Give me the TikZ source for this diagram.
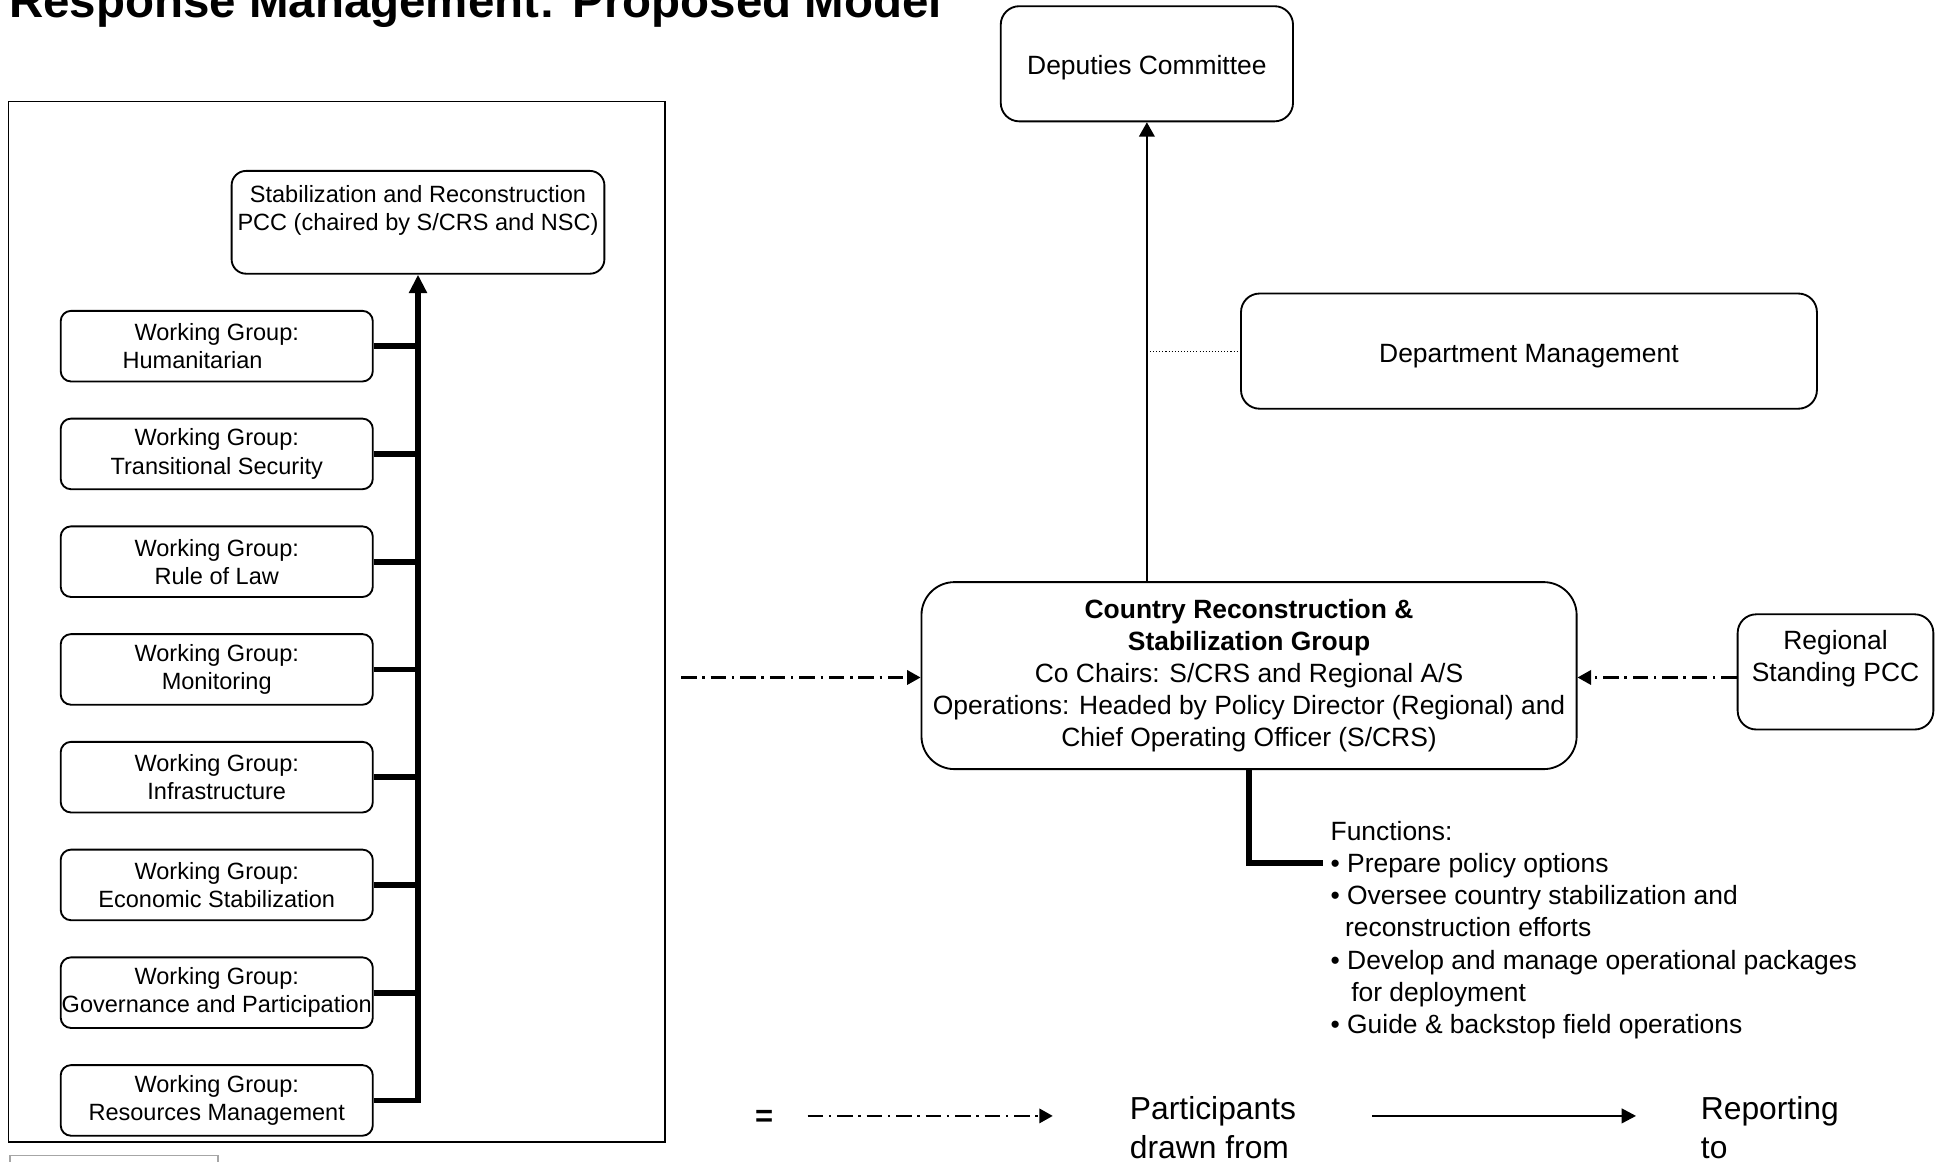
\documentclass[tikz,border=0pt]{standalone}
\usepackage{fontspec}
\setmainfont{Liberation Sans}
\usetikzlibrary{arrows.meta}
\newcommand{\wgf}{\fontsize{11.4}{13.6}\selectfont}
\newcommand{\midf}{\fontsize{12.8}{15.6}\selectfont}
\newcommand{\legf}{\fontsize{15.4}{18.6}\selectfont}
\begin{document}
\begin{tikzpicture}[x=0.6pt,y=-0.6pt,
  box/.style={draw, line width=0.9pt, rounded corners=#1, inner sep=0pt, align=center},
  box/.default=5pt,
  lift/.style={execute at begin node={\rule{0pt}{#1}}},
  wgbox/.style={box=5pt, minimum width=151.2pt, minimum height=34.2pt, font=\wgf, lift=10.8pt},
  spine/.style={line width=2.8pt, line join=miter},
  thinarrow/.style={line width=1pt, -{Triangle[length=7pt,width=7.6pt]}},
  dashdot/.style={line width=1pt, dash pattern=on 7.5pt off 2.8pt on 1.2pt off 2.8pt, -{Triangle[length=6.5pt,width=7pt]}},
  dottedline/.style={line width=0.5pt, dash pattern=on 0.5pt off 1pt}]
\useasboundingbox (0,0) rectangle (1568,938);
\clip (0,0) rectangle (1568,938);

% title
\node[anchor=base west, font=\bfseries\fontsize{23}{27}\selectfont, inner sep=0] (title) at (7,14) {Response Management: Proposed Model};

% left frame
\node[draw, line width=0.7pt, minimum width=318pt, minimum height=504pt, inner sep=0] (frame) at (272,502) {};
\draw[gray!70, line width=0.6pt] (8,933) rectangle (176,950);

% PCC
\node[box=7pt, minimum width=180.6pt, minimum height=49.8pt, font=\wgf, lift=12pt] (pcc) at (337.5,179.5)
  {Stabilization and Reconstruction\\PCC (chaired by S/CRS and NSC)\\\mbox{}};

% working groups
\node[wgbox] (wg1) at (175,279.5) {Working Group:\\Humanitarian\hspace*{23.4pt}};
\node[wgbox] (wg2) at (175,366.5) {Working Group:\\Transitional Security};
\node[wgbox] (wg3) at (175,453.5) {Working Group:\\Rule of Law};
\node[wgbox] (wg4) at (175,540.5) {Working Group:\\Monitoring};
\node[wgbox] (wg5) at (175,627.5) {Working Group:\\Infrastructure};
\node[wgbox] (wg6) at (175,714.5) {Working Group:\\Economic Stabilization};
\node[wgbox] (wg7) at (175,801.5) {Working Group:\\Governance and Participation};
\node[wgbox] (wg8) at (175,888.5) {Working Group:\\Resources Management};

\foreach \i in {1,...,7} \draw[spine] (wg\i.east) -- (wg\i.east -| pcc.south);
\draw[spine, -{Triangle[length=9pt,width=8.4pt]}] (wg8.east) -- (wg8.east -| pcc.south) -- (pcc.south);

% right side
\node[box=9pt, minimum width=141.6pt, minimum height=55.8pt, font=\midf, lift=12.8pt] (dep) at (926,51.5) {Deputies Committee};
\node[box=9pt, minimum width=279pt, minimum height=55.8pt, font=\midf, lift=14pt] (dept) at (1234.5,283.5) {Department Management};
\node[box=16pt, minimum width=317.4pt, minimum height=90.6pt, font=\midf, lift=16pt] (central) at (1008.5,545.5)
  {\textbf{Country Reconstruction \&}\\\textbf{Stabilization Group}\\Co Chairs: S/CRS and Regional A/S\\Operations: Headed by Policy Director (Regional) and\\Chief Operating Officer (S/CRS)};
\node[box=9pt, minimum width=94.8pt, minimum height=55.8pt, font=\midf, lift=11pt] (regional) at (1482,542.5)
  {Regional\\Standing PCC\\\mbox{}};

\draw[thinarrow] (central.north -| dep.south) -- (dep.south);
\draw[dottedline] (dept.west -| dep.south) -- (dept.west);

\coordinate (srcL) at (550,547);
\draw[dashdot] (srcL) -- (srcL -| central.west);
\draw[dashdot] (regional.west |- srcL) -- (srcL -| central.east);

% functions
\node[anchor=west, align=left, font=\midf, inner sep=0] (func) at (1074,751)
  {Functions:\\• Prepare policy options\\• Oversee country stabilization and\\\hspace*{7pt}reconstruction efforts\\• Develop and manage operational packages\\\hspace*{10pt}for deployment\\• Guide \& backstop field operations};
\coordinate (fend) at (1068,697);
\draw[spine] (central.south) |- (fend);

% legend
\node[font=\bfseries\fontsize{15}{18}\selectfont, inner sep=0] (eq) at (617,903) {=};
\coordinate (l1a) at (652,901);
\coordinate (l1b) at (850,901);
\draw[dashdot] (l1a) -- (l1b);
\node[anchor=west, align=left, font=\legf, inner sep=0] (leg1) at (912,910.5) {Participants\\drawn from};
\coordinate (l2a) at (1108,901);
\coordinate (l2b) at (1321,901);
\draw[line width=1.3pt, -{Triangle[length=7pt,width=7pt]}] (l2a) -- (l2b);
\node[anchor=west, align=left, font=\legf, inner sep=0] (leg2) at (1373,910.5) {Reporting\\to};
\end{tikzpicture}
\end{document}
